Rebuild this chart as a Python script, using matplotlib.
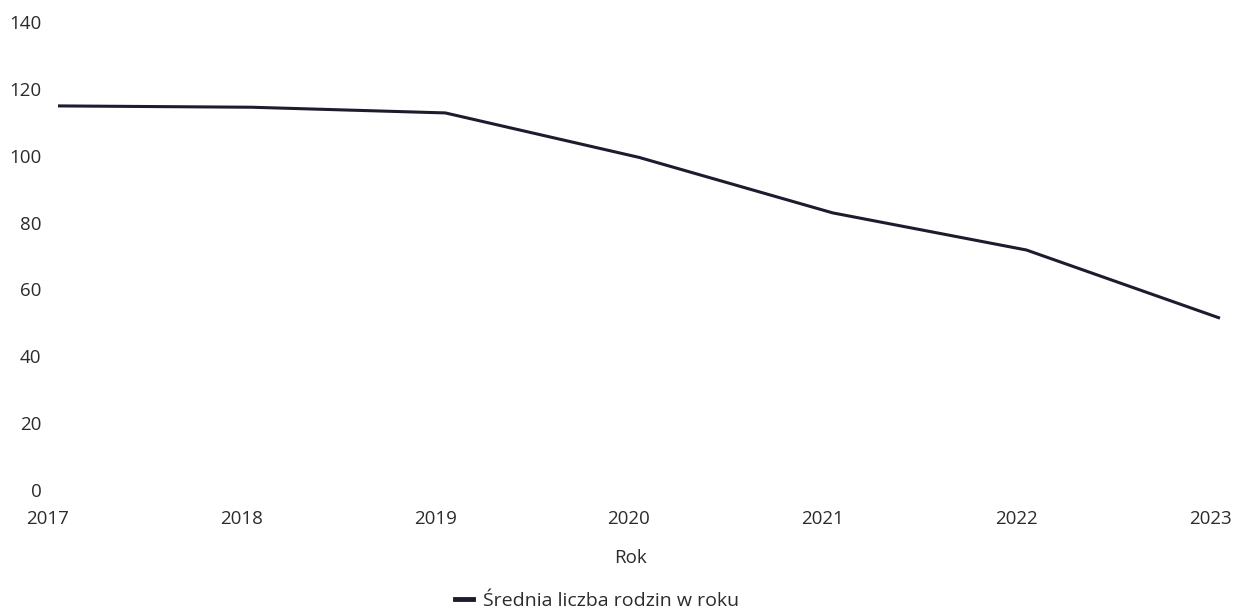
import matplotlib
matplotlib.use("Agg")
import matplotlib.pyplot as plt
import matplotlib.transforms as mtransforms
from matplotlib.lines import Line2D

plt.rcParams["font.family"] = ["Open Sans", "DejaVu Sans"]

years = [2017, 2018, 2019, 2020, 2021, 2022, 2023]
families = [114.9, 114.5, 112.8, 99.5, 82.9, 71.8, 51.4]
y_ticks = [0, 20, 40, 60, 80, 100, 120, 140]

LINE_COLOR = "#1c1c2e"
TEXT_COLOR = "#2b2b2b"
W, H = 1243, 613

fig = plt.figure(figsize=(W / 100, H / 100), dpi=100)
ax = fig.add_axes([58 / W, 1 - 490 / H, (1220 - 58) / W, (490 - 22) / H])

ax.plot(years, families, color=LINE_COLOR, linewidth=2.2, clip_on=False,
        solid_joinstyle="round", solid_capstyle="butt")

ax.set_xlim(years[0], years[-1])
ax.set_ylim(0, 140)
ax.set_xticks(years)
ax.set_yticks(y_ticks)
ax.tick_params(axis="both", length=0, labelsize=13.5, colors=TEXT_COLOR)
ax.tick_params(axis="y", pad=12)
ax.tick_params(axis="x", pad=14.5)
for s in ax.spines.values():
    s.set_visible(False)

# tick labels sit a little left of the data positions in the original
shift = mtransforms.ScaledTranslation(-10 / 100, 0, fig.dpi_scale_trans)
for lab in ax.get_xticklabels():
    lab.set_transform(lab.get_transform() + shift)

fig.text(631 / W, 1 - 558 / H, "Rok", ha="center", va="center",
         fontsize=13.5, color=TEXT_COLOR)

handle = Line2D([], [], color=LINE_COLOR, linewidth=3.5)
fig.legend([handle], ["Średnia liczba rodzin w roku"], loc="center",
           bbox_to_anchor=(597 / W, 1 - 601 / H), frameon=False,
           fontsize=14, handlelength=0.9, handletextpad=0.5,
           labelcolor=TEXT_COLOR)

fig.savefig("out.png", dpi=100)
